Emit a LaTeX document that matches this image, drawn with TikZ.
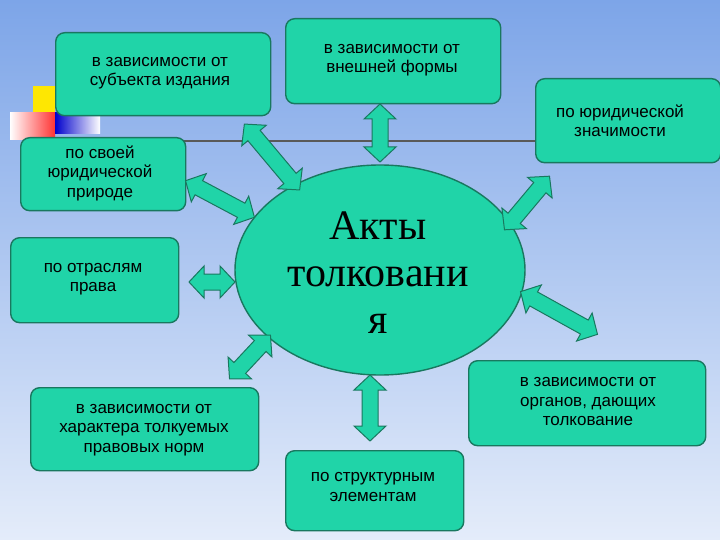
\documentclass[tikz,border=0pt]{standalone}
\usepackage{fontspec}
\setmainfont{Liberation Sans}
\newfontfamily\bigserif{Liberation Serif}
\usetikzlibrary{shapes.geometric}
\definecolor{bgtop}{RGB}{125,165,232}
\definecolor{bgbot}{RGB}{228,236,250}
\definecolor{boxg}{RGB}{32,212,168}
\definecolor{boxd}{RGB}{25,120,95}
\tikzset{
  box/.style={draw=boxd,line width=1.4pt,fill=boxg,rounded corners=9pt,anchor=north west,inner sep=0pt},
  lbl/.style={align=center,font=\fontsize{17}{19.5}\selectfont},
  arr/.style={draw=boxd,line width=1pt,fill=boxg,line join=miter}
}
\newcommand\dblarrow[4]{%
\begin{scope}[shift={(#1,#2)},rotate=#3]
\path[arr] ({-#4/2},0) -- ({-#4/2+15},-16) -- ({-#4/2+15},-8) -- ({#4/2-15},-8) -- ({#4/2-15},-16) -- ({#4/2},0) -- ({#4/2-15},16) -- ({#4/2-15},8) -- ({-#4/2+15},8) -- ({-#4/2+15},16) -- cycle;
\end{scope}}
\begin{document}
\begin{tikzpicture}[x=1pt,y=-1pt]
\shade[top color=bgtop,bottom color=bgbot] (0,0) rectangle (720,540);
\useasboundingbox (0,0) rectangle (720,540);
% decoration
\fill[yellow!90!orange] (33,86) rectangle (55,113);
\shade[left color=white,right color=red!80] (10,113) rectangle (55,140);
\shade[left color=blue!80!black,right color=white] (55,113) rectangle (100,134);
\draw[gray!70!black,line width=1.2pt] (100,141) -- (720,141);
% boxes
\node[box,minimum width=215pt,minimum height=83pt] (b1) at (55,32) {};
\node[lbl] (t1) at (160,73) {в зависимости от\\субъекта издания};
\node[box,minimum width=215pt,minimum height=85pt] (b2) at (285,18) {};
\node[lbl] (t2) at (392,60) {в зависимости от\\внешней формы};
\node[box,minimum width=185pt,minimum height=84pt] (b3) at (535,78) {};
\node[lbl] (t3) at (620,121) {по юридической\\значимости};
\node[box,minimum width=165pt,minimum height=73pt] (b4) at (20,137) {};
\node[lbl] (t4) at (100,173) {по своей\\юридической\\природе};
\node[box,minimum width=168pt,minimum height=85pt] (b5) at (10,237) {};
\node[lbl] (t5) at (93,279) {по отраслям\\права};
\node[box,minimum width=228pt,minimum height=83pt] (b6) at (30,387) {};
\node[lbl] (t6) at (144,430) {в зависимости от\\характера толкуемых\\правовых норм};
\node[box,minimum width=237pt,minimum height=85pt] (b7) at (468,360) {};
\node[lbl] (t7) at (588,402) {в зависимости от\\органов, дающих\\толкование};
\node[box,minimum width=178pt,minimum height=80pt] (b8) at (285,450) {};
\node[lbl] (t8) at (373,487) {по структурным\\элементам};
% ellipse
\node[ellipse,draw=boxd,line width=1.4pt,fill=boxg,minimum width=290pt,minimum height=210pt] (c) at (380,270) {};
\node[align=center,font=\bigserif\fontsize{42}{47}\selectfont] (ct) at (378,273) {Акты\\толковани\\я};
% arrows
\dblarrow{272}{157}{-50}{86}
\dblarrow{380}{133}{90}{58}
\dblarrow{527}{203}{50}{70}
\dblarrow{220}{199}{-28}{78}
\dblarrow{212}{282}{0}{46}
\dblarrow{250}{357}{47}{60}
\dblarrow{559}{313}{-29}{88}
\dblarrow{370}{408}{90}{66}
\end{tikzpicture}
\end{document}
